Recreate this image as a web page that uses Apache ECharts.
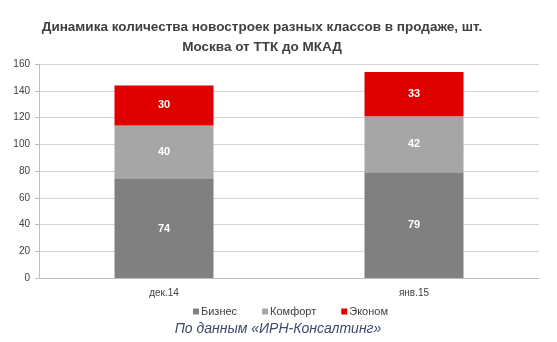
<!DOCTYPE html>
<html><head><meta charset="utf-8">
<script src="https://cdn.jsdelivr.net/npm/echarts@6/dist/echarts.min.js"></script>
<style>html,body{margin:0;padding:0;background:#fff}#c{width:557px;height:342px}</style>
</head><body><div id="c"></div>
<script>
const categories = ['дек.14', 'янв.15'];
const biznes = [74, 79];
const komfort = [40, 42];
const ekonom = [30, 33];
const yTicks = [0, 20, 40, 60, 80, 100, 120, 140, 160];

const chart = echarts.init(document.getElementById('c'), null, {renderer: 'canvas'});
const font = 'Liberation Sans, Arial, sans-serif';
const lbl = {show: true, color: '#ffffff', fontWeight: 'bold', fontSize: 11, fontFamily: font};
chart.setOption({
  animation: false,
  title: {
    text: 'Динамика количества новостроек разных классов в продаже, шт.\nМосква от ТТК до МКАД',
    left: 257, top: 12, textAlign: 'center',
    textStyle: {fontFamily: font, fontSize: 13.5, fontWeight: 'bold', color: '#404040', lineHeight: 20}
  },
  graphic: [{
    type: 'text', x: 278, y: 329,
    style: {text: 'По данным «ИРН-Консалтинг»', font: 'italic 14px ' + font, fill: '#3c4a6c', align: 'center', verticalAlign: 'middle'}
  }],
  legend: {
    top: 301, left: 188, itemWidth: 6, itemHeight: 6, itemGap: 25,
    icon: 'rect',
    textStyle: {fontFamily: font, fontSize: 11, color: '#404040', padding: [0, 0, 0, -3]},
    data: ['Бизнес', 'Комфорт', 'Эконом']
  },
  grid: {left: 39, right: 18, top: 64, bottom: 64},
  xAxis: {
    type: 'category', data: categories,
    axisLine: {lineStyle: {color: '#bfbfbf'}},
    axisTick: {show: false},
    axisLabel: {fontFamily: font, fontSize: 10, color: '#404040', margin: 10}
  },
  yAxis: {
    type: 'value', min: yTicks[0], max: yTicks[yTicks.length - 1], interval: 20,
    axisLine: {show: true, lineStyle: {color: '#bfbfbf'}},
    axisTick: {show: true, length: 4, lineStyle: {color: '#bfbfbf'}},
    splitLine: {lineStyle: {color: '#d4d4d4'}},
    axisLabel: {fontFamily: font, fontSize: 10, color: '#404040', margin: 9}
  },
  series: [
    {name: 'Бизнес', type: 'bar', stack: 's', data: biznes, barWidth: '39.6%', itemStyle: {color: '#808080'}, label: lbl},
    {name: 'Комфорт', type: 'bar', stack: 's', data: komfort, itemStyle: {color: '#a6a6a6'}, label: lbl},
    {name: 'Эконом', type: 'bar', stack: 's', data: ekonom, itemStyle: {color: '#e00000'}, label: lbl}
  ]
});
</script></body></html>
